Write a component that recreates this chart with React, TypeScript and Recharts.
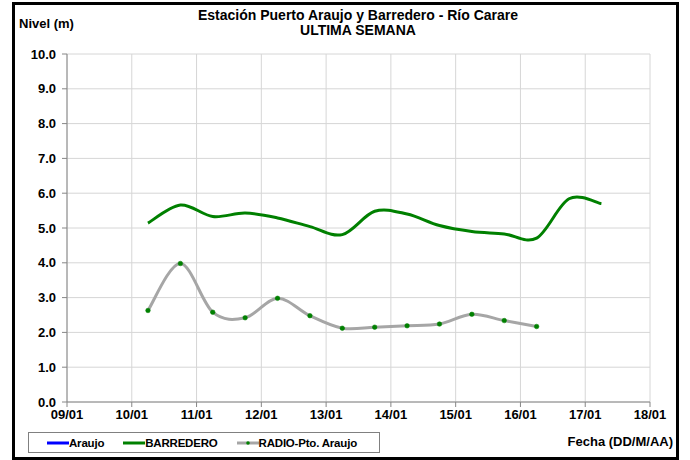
import { CartesianGrid, Legend, Line, LineChart, XAxis, YAxis } from "recharts";

const FONT = '"Liberation Sans", Arial, sans-serif';

const dayLabels = ["09/01", "10/01", "11/01", "12/01", "13/01", "14/01", "15/01", "16/01", "17/01", "18/01"];
const dayTicks = [0, 1, 2, 3, 4, 5, 6, 7, 8, 9];
const levelTicks = [0, 1, 2, 3, 4, 5, 6, 7, 8, 9, 10];

// readings at 06:00 and 18:00, in days counted from 09/01 00:00
const barrederoTimes = [1.25, 1.75, 2.25, 2.75, 3.25, 3.75, 4.25, 4.75, 5.25, 5.75, 6.25, 6.75, 7.25, 7.75, 8.25];
const barrederoLevels = [5.14, 5.66, 5.33, 5.43, 5.29, 5.04, 4.81, 5.48, 5.4, 5.07, 4.9, 4.83, 4.71, 5.84, 5.7];

const radioTimes = [1.25, 1.75, 2.25, 2.75, 3.25, 3.75, 4.25, 4.75, 5.25, 5.75, 6.25, 6.75, 7.25];
const radioLevels = [2.63, 3.98, 2.58, 2.42, 2.98, 2.48, 2.12, 2.15, 2.19, 2.24, 2.52, 2.34, 2.17];

// Araujo station sent nothing this week
const araujoLevels: number[] = [];

const data = barrederoTimes.map((t, i) => {
  const r = radioTimes.indexOf(t);
  return {
    t,
    araujo: araujoLevels[i] ?? null,
    barredero: barrederoLevels[i],
    radio: r >= 0 ? radioLevels[r] : null,
  };
});

// Excel-like smoothed line (Catmull-Rom through the points)
function excelSmooth(ctx: any) {
  let pts: [number, number][] = [];
  return {
    areaStart() {},
    areaEnd() {},
    lineStart() {
      pts = [];
    },
    point(x: number, y: number) {
      pts.push([+x, +y]);
    },
    lineEnd() {
      if (!pts.length) return;
      ctx.moveTo(pts[0][0], pts[0][1]);
      for (let i = 0; i < pts.length - 1; i++) {
        const p0 = pts[i - 1] || pts[i];
        const p1 = pts[i];
        const p2 = pts[i + 1];
        const p3 = pts[i + 2] || p2;
        ctx.bezierCurveTo(
          p1[0] + (p2[0] - p0[0]) / 6,
          p1[1] + (p2[1] - p0[1]) / 6,
          p2[0] - (p3[0] - p1[0]) / 6,
          p2[1] - (p3[1] - p1[1]) / 6,
          p2[0],
          p2[1]
        );
      }
    },
  };
}

function LegendBox({ payload }: any) {
  return (
    <div
      style={{
        boxSizing: "border-box",
        width: 352,
        height: 21,
        border: "1px solid #808080",
        display: "flex",
        alignItems: "center",
        paddingLeft: 18,
        fontFamily: FONT,
        fontWeight: "bold",
        fontSize: 11.5,
        letterSpacing: -0.2,
        whiteSpace: "nowrap",
        color: "#000",
      }}
    >
      {(payload || []).map((entry: any) => (
        <span key={entry.value} style={{ display: "flex", alignItems: "center", marginRight: 19, flexShrink: 0 }}>
          <svg width={22} height={8}>
            <line x1={0} y1={4} x2={22} y2={4} stroke={entry.color} strokeWidth={3} />
            {entry.dataKey === "radio" && <circle cx={11} cy={4} r={1.8} fill="#008000" />}
          </svg>
          <span>{entry.value}</span>
        </span>
      ))}
    </div>
  );
}

const tickStyle = { fontSize: 13, fontWeight: "bold", fill: "#000", fontFamily: FONT };

export default function App() {
  return (
    <div style={{ position: "relative", width: 690, height: 460, background: "#fff", overflow: "hidden" }}>
      <style>{"body{margin:0}"}</style>
      <div
        style={{
          position: "absolute",
          left: 12,
          top: 2,
          width: 667,
          height: 458,
          boxSizing: "border-box",
          border: "3px solid #000",
        }}
      />
      <div
        style={{
          position: "absolute",
          left: 158,
          top: 8,
          width: 400,
          textAlign: "center",
          fontFamily: FONT,
          fontWeight: "bold",
          fontSize: 14,
          lineHeight: "15px",
        }}
      >
        <div>Estación Puerto Araujo y Barredero - Río Carare</div>
        <div>ULTIMA SEMANA</div>
      </div>
      <div
        style={{
          position: "absolute",
          left: 19,
          top: 16,
          fontFamily: FONT,
          fontWeight: "bold",
          fontSize: 13,
          lineHeight: "16px",
        }}
      >
        Nivel (m)
      </div>
      <div
        style={{
          position: "absolute",
          right: 17,
          top: 434,
          fontFamily: FONT,
          fontWeight: "bold",
          fontSize: 13,
          lineHeight: "16px",
        }}
      >
        Fecha (DD/M/AA)
      </div>
      <div style={{ position: "absolute", left: 0, top: 0 }}>
        <LineChart width={690} height={460} data={data} margin={{ top: 54, right: 40, bottom: 33, left: 17 }}>
          <CartesianGrid stroke="#d6d6d6" strokeWidth={1} />
          <XAxis
            dataKey="t"
            type="number"
            domain={[0, 9]}
            ticks={dayTicks}
            tickFormatter={(v: number) => dayLabels[v]}
            tick={tickStyle}
            tickSize={5}
            tickMargin={3}
            height={25}
            axisLine={{ stroke: "#868686" }}
            tickLine={{ stroke: "#868686" }}
            interval={0}
          />
          <YAxis
            type="number"
            domain={[0, 10]}
            ticks={levelTicks}
            tickFormatter={(v: number) => v.toFixed(1)}
            tick={tickStyle}
            tickSize={5}
            tickMargin={6}
            width={50}
            axisLine={{ stroke: "#868686" }}
            tickLine={{ stroke: "#868686" }}
            interval={0}
          />
          <Legend
            layout="vertical"
            align="center"
            verticalAlign="middle"
            content={LegendBox}
            wrapperStyle={{ left: 28, top: 432, width: 352, height: 21 }}
          />
          <Line
            dataKey="araujo"
            name="Araujo"
            stroke="#0000ff"
            strokeWidth={3}
            dot={false}
            legendType="line"
            isAnimationActive={false}
          />
          <Line
            dataKey="barredero"
            name="BARREDERO"
            type={excelSmooth as any}
            stroke="#008000"
            strokeWidth={3}
            dot={false}
            legendType="line"
            isAnimationActive={false}
          />
          <Line
            dataKey="radio"
            name="RADIO-Pto. Araujo"
            type={excelSmooth as any}
            stroke="#a6a6a6"
            strokeWidth={3}
            dot={{ r: 2.3, fill: "#008000", stroke: "#008000", strokeWidth: 0.5 }}
            legendType="line"
            isAnimationActive={false}
          />
        </LineChart>
      </div>
    </div>
  );
}
